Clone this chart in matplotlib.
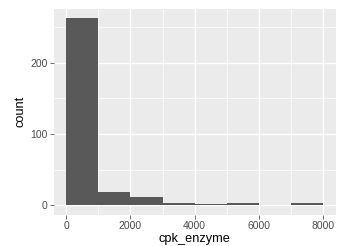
import matplotlib
matplotlib.use("Agg")
import matplotlib.pyplot as plt
import numpy as np

bin_edges = [0, 1000, 2000, 3000, 4000, 5000, 6000, 7000, 8000]
counts = [262, 18, 11, 3, 2, 3, 1, 3]
x_ticks = [0, 2000, 4000, 6000, 8000]
y_ticks = [0, 100, 200]
x_label = "cpk_enzyme"
y_label = "count"

plt.rcParams['font.family'] = ['Liberation Sans', 'DejaVu Sans']
fig = plt.figure(figsize=(3.44, 2.46), dpi=100)
W, H = 344, 246
left, right, top, bottom = 53.5, 335.8, 9.0, 214.6
ax = fig.add_axes([left / W, 1 - bottom / H, (right - left) / W, (bottom - top) / H])
ax.set_facecolor('#EBEBEB')

xmin, xmax = bin_edges[0], bin_edges[-1]
ymax = max(counts)
ax.set_xlim(xmin - 0.05 * (xmax - xmin), xmax + 0.05 * (xmax - xmin))
ax.set_ylim(-0.05 * ymax, ymax * 1.05)

ax.set_xticks(x_ticks)
ax.set_yticks(y_ticks)
ax.set_xticks([1000, 3000, 5000, 7000], minor=True)
ax.set_yticks([50, 150, 250], minor=True)
ax.grid(which='major', color='white', linewidth=1.0)
ax.grid(which='minor', color='white', linewidth=0.5)
ax.set_axisbelow(True)

widths = np.diff(bin_edges)
ax.bar(bin_edges[:-1], counts, width=widths, align='edge', color='#595959', edgecolor='none', linewidth=0)

for s in ax.spines.values():
    s.set_visible(False)
ax.tick_params(which='major', length=2.75, width=0.5, color='#333333', labelcolor='#4D4D4D', labelsize=7.5, pad=1.5)
ax.tick_params(which='minor', length=0)
ax.set_xlabel(x_label, fontsize=9.2, color='black', labelpad=2)
ax.set_ylabel(y_label, fontsize=9.2, color='black', labelpad=3)

fig.savefig("out.png", dpi=100)
